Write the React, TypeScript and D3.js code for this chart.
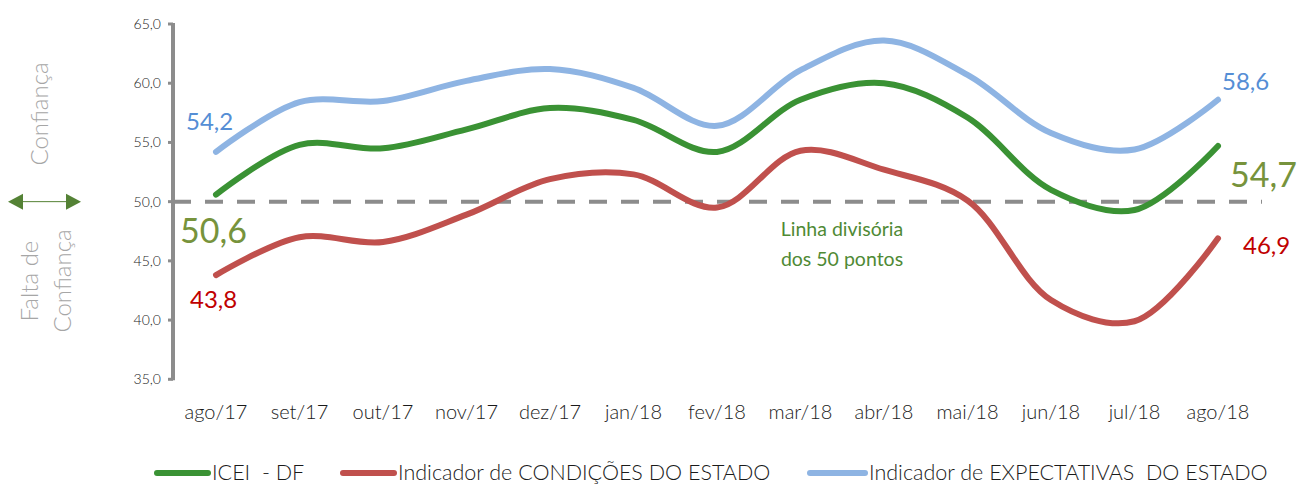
import { useEffect, useRef } from "react";
import * as d3 from "d3";

const months = ["ago/17", "set/17", "out/17", "nov/17", "dez/17", "jan/18", "fev/18", "mar/18", "abr/18", "mai/18", "jun/18", "jul/18", "ago/18"];
const iceiValues = [50.6, 54.8, 54.5, 56.1, 57.9, 56.9, 54.2, 58.6, 60.0, 57.1, 51.0, 49.3, 54.7];
const condicoesValues = [43.8, 47.0, 46.6, 48.9, 51.9, 52.3, 49.5, 54.3, 52.7, 50.1, 41.7, 39.9, 46.9];
const expectativasValues = [54.2, 58.4, 58.5, 60.2, 61.2, 59.6, 56.4, 61.1, 63.6, 60.7, 55.8, 54.4, 58.6];
const yTicks = [35, 40, 45, 50, 55, 60, 65];
const seriesNames = ["ICEI  - DF", "Indicador de CONDIÇÕES DO ESTADO", "Indicador de EXPECTATIVAS  DO ESTADO"];

const App = () => {
  const svgRef = useRef<SVGSVGElement>(null);

  useEffect(() => {
    if (!svgRef.current) return;
    const svg = d3.select(svgRef.current);
    svg.selectAll("*").remove();

    const W = 1311;
    const H = 485;
    svg.attr("width", W).attr("height", H);

    const x = d3.scalePoint<string>().domain(months).range([216, 1218]);
    const y = d3.scaleLinear().domain([35, 65]).range([379.3, 24]);
    const fmt = (v: number) => v.toFixed(1).replace(".", ",");
    const font = "Lato, sans-serif";

    const axisX = 173;

    // y axis line + ticks
    svg.append("line")
      .attr("x1", axisX).attr("x2", axisX)
      .attr("y1", y(65) - 1).attr("y2", y(35) + 1)
      .attr("stroke", "#8c8c8c").attr("stroke-width", 4);
    svg.selectAll(".ytick")
      .data(yTicks)
      .join("line")
      .attr("class", "ytick")
      .attr("x1", axisX - 5).attr("x2", axisX)
      .attr("y1", (d) => y(d)).attr("y2", (d) => y(d))
      .attr("stroke", "#8c8c8c").attr("stroke-width", 3);
    svg.selectAll(".ylabel")
      .data(yTicks)
      .join("text")
      .attr("class", "ylabel")
      .attr("x", 161)
      .attr("y", (d) => y(d) + 5)
      .attr("text-anchor", "end")
      .style("font-family", font)
      .style("font-weight", "300")
      .style("font-size", "14px")
      .style("fill", "#1a1a1a")
      .text((d) => fmt(d));

    // x labels
    svg.selectAll(".xlabel")
      .data(months)
      .join("text")
      .attr("class", "xlabel")
      .attr("x", (d) => x(d) as number)
      .attr("y", 419)
      .attr("text-anchor", "middle")
      .style("font-family", font)
      .style("font-weight", "300")
      .style("font-size", "20px")
      .style("fill", "#1a1a1a")
      .text((d) => d);

    // dashed 50 line
    svg.append("line")
      .attr("x1", axisX).attr("x2", 1262)
      .attr("y1", y(50)).attr("y2", y(50))
      .attr("stroke", "#8c8c8c").attr("stroke-width", 4)
      .attr("stroke-dasharray", "18,14");

    const line = d3.line<number>()
      .x((_, i) => x(months[i]) as number)
      .y((d) => y(d))
      .curve(d3.curveCatmullRom.alpha(0.5));

    const series = [
      { values: expectativasValues, color: "#8eb4e3" },
      { values: iceiValues, color: "#3a9234" },
      { values: condicoesValues, color: "#c0504d" },
    ];
    series.forEach((s) => {
      svg.append("path")
        .attr("d", line(s.values))
        .attr("fill", "none")
        .attr("stroke", s.color)
        .attr("stroke-width", 6)
        .attr("stroke-linecap", "round");
    });

    // end labels
    const last = months.length - 1;
    const labels = [
      { v: expectativasValues[0], x: x(months[0])! - 30, y: y(expectativasValues[0]) - 22, size: 24, color: "#558ed5" },
      { v: iceiValues[0], x: x(months[0])! - 36, y: y(iceiValues[0]) + 48, size: 34, color: "#77933c" },
      { v: condicoesValues[0], x: x(months[0])! - 26, y: y(condicoesValues[0]) + 33, size: 24, color: "#c00000" },
      { v: expectativasValues[last], x: x(months[last])! + 4, y: y(expectativasValues[last]) - 10, size: 24, color: "#558ed5" },
      { v: iceiValues[last], x: x(months[last])! + 12, y: y(iceiValues[last]) + 41, size: 34, color: "#77933c" },
      { v: condicoesValues[last], x: x(months[last])! + 25, y: y(condicoesValues[last]) + 16, size: 24, color: "#c00000" },
    ];
    svg.selectAll(".dlabel")
      .data(labels)
      .join("text")
      .attr("class", "dlabel")
      .attr("x", (d) => d.x)
      .attr("y", (d) => d.y)
      .style("font-family", font)
      .style("font-size", (d) => `${d.size}px`)
      .style("fill", (d) => d.color)
      .text((d) => fmt(d.v));

    // divider annotation
    const note = svg.append("text")
      .attr("text-anchor", "middle")
      .style("font-family", font)
      .style("font-size", "19.5px")
      .style("fill", "#4f8a35");
    note.append("tspan").attr("x", 842).attr("y", 236).text("Linha divisória");
    note.append("tspan").attr("x", 842).attr("y", 266).text("dos 50 pontos");

    // left side annotation
    const side = svg.append("g")
      .style("font-family", font)
      .style("font-weight", "300")
      .style("font-size", "24px")
      .style("fill", "#a6a6a6");
    side.append("text")
      .attr("transform", "translate(48,114) rotate(-90)")
      .attr("text-anchor", "middle")
      .text("Confiança");
    side.append("text")
      .attr("transform", "translate(38,281) rotate(-90)")
      .attr("text-anchor", "middle")
      .text("Falta de");
    side.append("text")
      .attr("transform", "translate(71,281) rotate(-90)")
      .attr("text-anchor", "middle")
      .text("Confiança");

    // double arrow
    const ay = y(50);
    const ag = svg.append("g").attr("fill", "#548235").attr("stroke", "#548235");
    ag.append("line").attr("x1", 20).attr("x2", 70).attr("y1", ay).attr("y2", ay).attr("stroke-width", 1);
    ag.append("path").attr("d", `M8,${ay} L23,${ay - 8} L23,${ay + 8} Z`).attr("stroke", "none");
    ag.append("path").attr("d", `M81,${ay} L66,${ay - 8} L66,${ay + 8} Z`).attr("stroke", "none");

    // legend
    const legend = [
      { name: seriesNames[0], color: "#3a9234", x1: 157, x2: 208 },
      { name: seriesNames[1], color: "#c0504d", x1: 343, x2: 394 },
      { name: seriesNames[2], color: "#8eb4e3", x1: 810, x2: 865 },
    ];
    const lg = svg.selectAll(".legend").data(legend).join("g").attr("class", "legend");
    lg.append("line")
      .attr("x1", (d) => d.x1).attr("x2", (d) => d.x2)
      .attr("y1", 473).attr("y2", 473)
      .attr("stroke", (d) => d.color)
      .attr("stroke-width", 6)
      .attr("stroke-linecap", "round");
    lg.append("text")
      .attr("x", (d) => d.x2 + 4)
      .attr("y", 480)
      .style("font-family", font)
      .style("font-weight", "300")
      .style("font-size", "21.5px")
      .style("fill", "#1a1a1a")
      .style("white-space", "pre")
      .text((d) => d.name);
  }, []);

  return (
    <div style={{ position: "absolute", left: 0, top: 0 }}>
      <svg ref={svgRef} style={{ display: "block" }}></svg>
    </div>
  );
};

export default App;
